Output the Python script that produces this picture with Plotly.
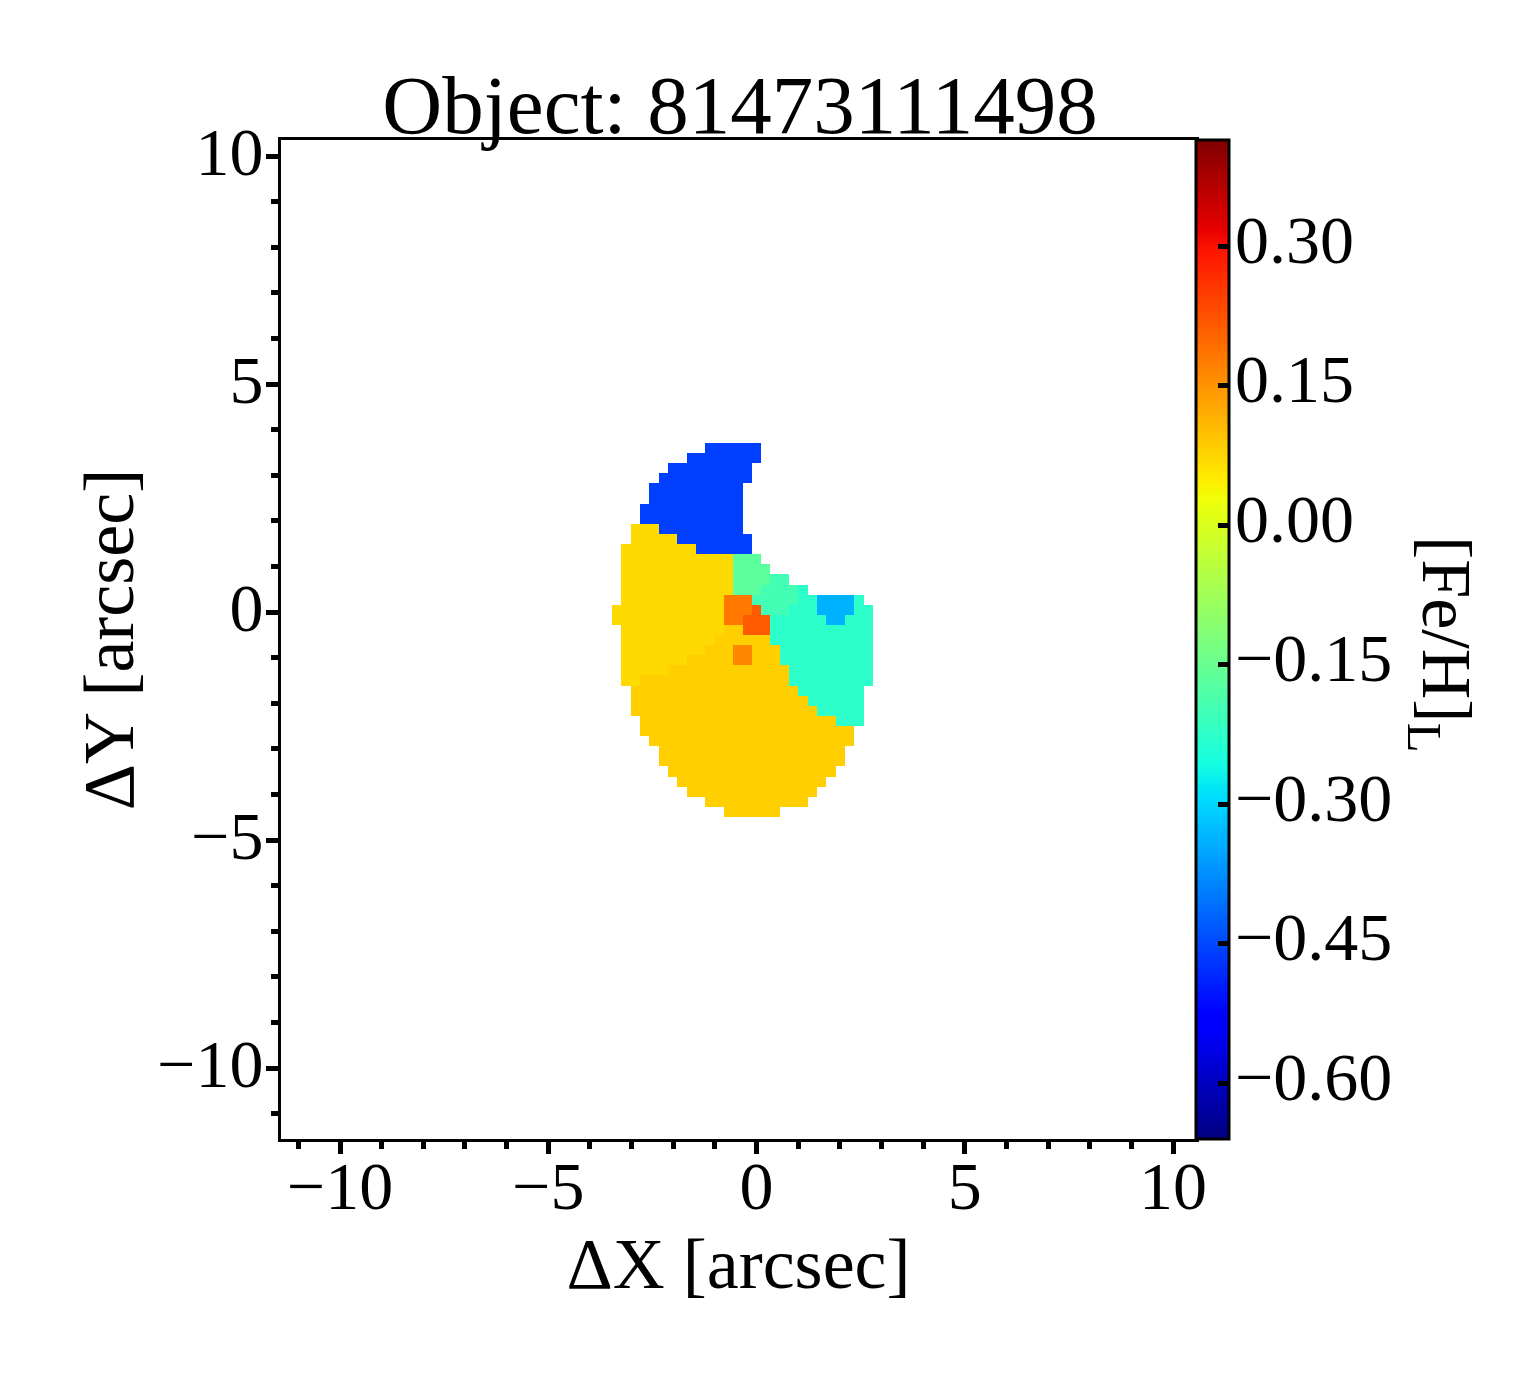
import numpy as np
import plotly.graph_objects as go

title_text = "Object: 81473111498"
cbar_title = "[Fe/H]<sub>L</sub>"
cbar_ticks = [-0.60, -0.45, -0.30, -0.15, 0.00, 0.15, 0.30]
value_of = {"B": -0.459, "Y": 0.069, "O": 0.082, "G": -0.2255, "M": -0.166,
            "m": -0.198, "C": -0.338, "R": 0.181, "r": 0.215, "A": 0.164}
rows = [
    "..........BBBBBB............",
    "........BBBBBBBB............",
    "......BBBBBBBBB.............",
    ".....BBBBBBBBBB.............",
    "....BBBBBBBBBB..............",
    "....BBBBBBBBBB..............",
    "...BBBBBBBBBBB..............",
    "...BBBBBBBBBBB..............",
    "..YYYBBBBBBBBB..............",
    "..YYYYYBBBBBBBB.............",
    ".YYYYYYYYBBBBBB.............",
    ".YYYYYYYYYYYYMMM............",
    ".YYYYYYYYYYYYMMMM...........",
    ".YYYYYYYYYYYYMMMMmm.........",
    ".YYYYYYYYYYYYMMMmmmmG.......",
    ".YYYYYYYYYYYRRRmmmmmGGCCCCG.",
    "YYYYYYYYYYYYRRRrmmmGGGCCCCGG",
    "YYYYYYYYYYYYRRrrrGGGGGGCCGGG",
    ".YYYYYYYYYYYOOrrrGGGGGGGGGGG",
    ".YYYYYYYYYYOOOOOOGGGGGGGGGGG",
    ".YYYYYYYYYOOOAAOOOGGGGGGGGGG",
    ".YYYYYYYOOOOOAAOOOGGGGGGGGGG",
    ".YYYYYOOOOOOOOOOOOOGGGGGGGGG",
    ".YYOOOOOOOOOOOOOOOOGGGGGGGGG",
    "..OOOOOOOOOOOOOOOOOOGGGGGGG.",
    "..OOOOOOOOOOOOOOOOOOOGGGGGG.",
    "..OOOOOOOOOOOOOOOOOOOOGGGGG.",
    "...OOOOOOOOOOOOOOOOOOOOOGGG.",
    "...OOOOOOOOOOOOOOOOOOOOOOO..",
    "....OOOOOOOOOOOOOOOOOOOOOO..",
    ".....OOOOOOOOOOOOOOOOOOOO...",
    ".....OOOOOOOOOOOOOOOOOOOO...",
    "......OOOOOOOOOOOOOOOOOO....",
    ".......OOOOOOOOOOOOOOOO.....",
    "........OOOOOOOOOOOOOO......",
    "..........OOOOOOOOOOO.......",
    "............OOOOOO..........",
]
z = [[value_of.get(c) for c in r] for r in rows]

# jet colormap
ts = np.array([0, .11, .125, .34, .35, .375, .64, .65, .66, .89, .91, 1.0])
R = np.interp(ts, [0, .35, .66, .89, 1], [0, 0, 1, 1, .5])
G = np.interp(ts, [0, .125, .375, .64, .91, 1], [0, 0, 1, 1, 0, 0])
B = np.interp(ts, [0, .11, .34, .65, 1], [.5, 1, 1, 0, 0])
jet = [[float(t), f"rgb({r*255:.0f},{g*255:.0f},{b*255:.0f})"] for t, r, g, b in zip(ts, R, G, B)]

W, H = 1540, 1375
L, Rt, T, Bt = 281, 1196, 140, 1139
CB_R = 1229
x_zero, x_scale = 756.5, 41.65
y_zero, y_scale = 612.0, 45.6
cell_w, cell_h = 9.32, 10.11
ZMIN, ZMAX = -0.66, 0.414
FONT = "Liberation Serif"

fig = go.Figure(go.Heatmap(
    z=z, x0=(612 - x_zero) / x_scale + cell_w / x_scale / 2, dx=cell_w / x_scale,
    y0=(y_zero - 443) / y_scale - cell_h / y_scale / 2, dy=-cell_h / y_scale,
    zmin=ZMIN, zmax=ZMAX, colorscale=jet, hoverongaps=False,
    colorbar=dict(
        x=Rt / W, xanchor="left", y=1 - T / H, yanchor="top",
        lenmode="fraction", len=(Bt - T) / H, thicknessmode="pixels", thickness=CB_R - Rt,
        xpad=0, ypad=0, outlinewidth=3, outlinecolor="black", borderwidth=0,
        tickmode="array", tickvals=cbar_ticks, showticklabels=False,
        ticks="inside", ticklen=12, tickwidth=5, tickcolor="black",
    ),
))
# Colour-bar tick labels, placed by their own axis on the colour scale
fig.add_trace(go.Scatter(x=[], y=[], yaxis="y2", showlegend=False, hoverinfo="skip"))

axis_common = dict(
    showgrid=False, zeroline=False, showline=True, linewidth=3, linecolor="black",
    mirror=True, ticks="outside", ticklen=12, tickwidth=5, tickcolor="black",
    dtick=5, tickfont=dict(family=FONT, size=68, color="black"), automargin=False,
    minor=dict(dtick=1, ticks="outside", ticklen=7, tickwidth=5, tickcolor="black", showgrid=False),
)
fig.update_layout(
    width=W, height=H, autosize=False,
    margin=dict(l=0, r=0, t=0, b=0, autoexpand=False),
    paper_bgcolor="white", plot_bgcolor="white",
    font=dict(family=FONT, color="black"),
    title=dict(text=title_text, x=740 / W, xanchor="center", y=1 - 133 / H, yanchor="bottom",
               yref="container",
               font=dict(family=FONT, size=83, color="black")),
    xaxis=dict(axis_common, domain=[L / W, Rt / W],
               range=[(L - x_zero) / x_scale, (Rt - x_zero) / x_scale],
               ticklabelstandoff=-27,
               title=dict(text="ΔX [arcsec]", standoff=2, font=dict(family=FONT, size=72))),
    yaxis=dict(axis_common, domain=[1 - Bt / H, 1 - T / H],
               range=[(y_zero - Bt) / y_scale, (y_zero - T) / y_scale],
               ticklabelstandoff=-11, ticklabelshift=-5,
               title=dict(text="ΔY [arcsec]", standoff=0, font=dict(family=FONT, size=72))),
    yaxis2=dict(overlaying="y", anchor="free", position=CB_R / W, side="right",
                domain=[1 - Bt / H, 1 - T / H], range=[ZMIN, ZMAX],
                showgrid=False, zeroline=False, showline=False, ticks="",
                tickmode="array", tickvals=cbar_ticks, tickformat=".2f",
                tickfont=dict(family=FONT, size=68, color="black"),
                ticklabelstandoff=5, ticklabelshift=-7, automargin=False),
    annotations=[dict(text=cbar_title, textangle=90, xref="paper", yref="paper",
                      x=1441 / W, y=1 - 644 / H, xanchor="center", yanchor="middle",
                      showarrow=False, font=dict(family=FONT, size=70, color="black"))],
)
fig.write_html("out.html", config=dict(displayModeBar=False),
               post_script="document.body.style.margin='0';document.body.style.overflow='hidden';")
